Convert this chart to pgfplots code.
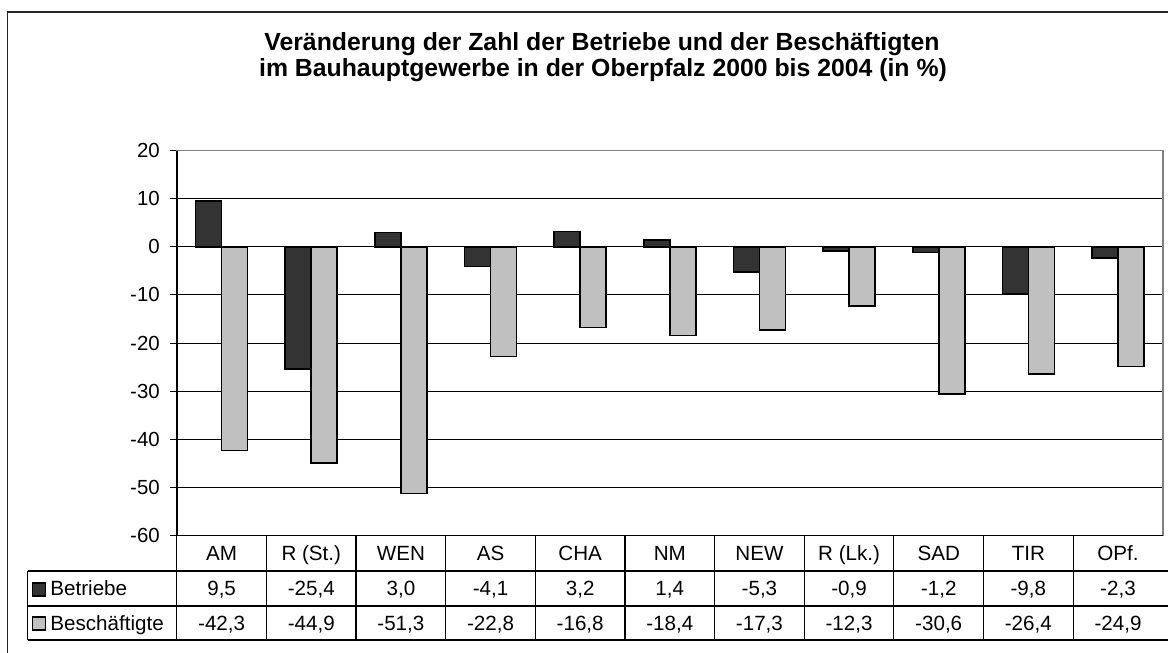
\documentclass[border=0pt]{standalone}
\usepackage{fontspec}
\setmainfont{Liberation Sans}
\usepackage{pgfplots}
\usepackage{pgfplotstable}
\pgfplotsset{compat=1.18}
\definecolor{darkbar}{HTML}{333333}
\definecolor{lightbar}{HTML}{C0C0C0}
\definecolor{bordergray}{HTML}{808080}

\pgfplotstableread{
idx betriebe beschaeftigte
0 9.5 -42.3
1 -25.4 -44.9
2 3.0 -51.3
3 -4.1 -22.8
4 3.2 -16.8
5 1.4 -18.4
6 -5.3 -17.3
7 -0.9 -12.3
8 -1.2 -30.6
9 -9.8 -26.4
10 -2.3 -24.9
}\datatable

\begin{document}
\begin{tikzpicture}
\useasboundingbox (0,0) rectangle (584pt,326.5pt);
% outer frame
\draw[line width=0.8pt, black!85] (3.65pt,0) -- (3.65pt,320.35pt) -- (590pt,320.35pt);
% title
\node[anchor=base, font=\bfseries\fontsize{12.4}{14}\selectfont] at (301pt,301pt) {Veränderung der Zahl der Betriebe und der Beschäftigten};
\node[anchor=base, font=\bfseries\fontsize{12.4}{14}\selectfont] at (301.5pt,288pt) {im Bauhauptgewerbe in der Oberpfalz 2000 bis 2004 (in \%)};
\begin{axis}[
  name=ax,
  at={(88.4pt,58.75pt)}, anchor=south west,
  width=493pt, height=192.5pt, scale only axis,
  xmin=-0.5, xmax=10.5, ymin=-60, ymax=20,
  xtick=\empty,
  ytick={-60,-50,-40,-30,-20,-10,0,10,20},
  yticklabels={-60,-50,-40,-30,-20,-10,0,10,20},
  yticklabel style={font=\fontsize{10.2}{12}\selectfont, xshift=-1.5pt},
  ymajorgrids,
  major grid style={black, line width=0.5pt},
  tick align=outside, ytick pos=left,
  major tick length=3.5pt,
  tick style={black, line width=0.5pt},
  axis line style={draw=bordergray, line width=0.9pt},
  clip=false,
]
\addplot[ybar, bar width=13pt, bar shift=-6.5pt, fill=darkbar, draw=black, line width=0.8pt] table[x=idx, y=betriebe] {\datatable};
\addplot[ybar, bar width=13pt, bar shift=6.5pt, fill=lightbar, draw=black, line width=0.8pt] table[x=idx, y=beschaeftigte] {\datatable};
\end{axis}
% black left and bottom axis lines
\draw[black, line width=0.7pt] (ax.north west) -- (ax.south west) -- (ax.south east);
% data table
\begin{scope}[line width=0.6pt, black]
\draw (13.85pt,41pt) -- (590pt,41pt);
\draw (13.85pt,23.5pt) -- (590pt,23.5pt);
\draw (13.85pt,6.5pt) -- (590pt,6.5pt);
\draw (13.85pt,41pt) -- (13.85pt,6.5pt);
\foreach \k in {0,...,10} {
  \draw ({88.4pt+44.818pt*\k},58.75pt) -- ({88.4pt+44.818pt*\k},6.5pt);
}
\end{scope}
\begin{scope}[every node/.style={font=\fontsize{10.3}{12}\selectfont, inner sep=0pt, anchor=base}]
\foreach \c [count=\i from 0] in {AM,R (St.),WEN,AS,CHA,NM,NEW,R (Lk.),SAD,TIR,OPf.} {
  \node at ({88.4pt+44.818pt*(\i+0.5)},46.2pt) {\c};
}
\foreach \v [count=\i from 0] in {{9,5},{-25,4},{3,0},{-4,1},{3,2},{1,4},{-5,3},{-0,9},{-1,2},{-9,8},{-2,3}} {
  \node at ({88.4pt+44.818pt*(\i+0.5)},28.55pt) {\v};
}
\foreach \v [count=\i from 0] in {{-42,3},{-44,9},{-51,3},{-22,8},{-16,8},{-18,4},{-17,3},{-12,3},{-30,6},{-26,4},{-24,9}} {
  \node at ({88.4pt+44.818pt*(\i+0.5)},11.3pt) {\v};
}
\node[anchor=base west] at (25pt,28.55pt) {Betriebe};
\node[anchor=base west] at (25pt,11.3pt) {Beschäftigte};
\end{scope}
\draw[fill=darkbar, draw=black, line width=0.6pt] (16.2pt,28.5pt) rectangle (22.7pt,35pt);
\draw[fill=lightbar, draw=black, line width=0.6pt] (16.2pt,11.5pt) rectangle (22.7pt,18pt);
\end{tikzpicture}
\end{document}
